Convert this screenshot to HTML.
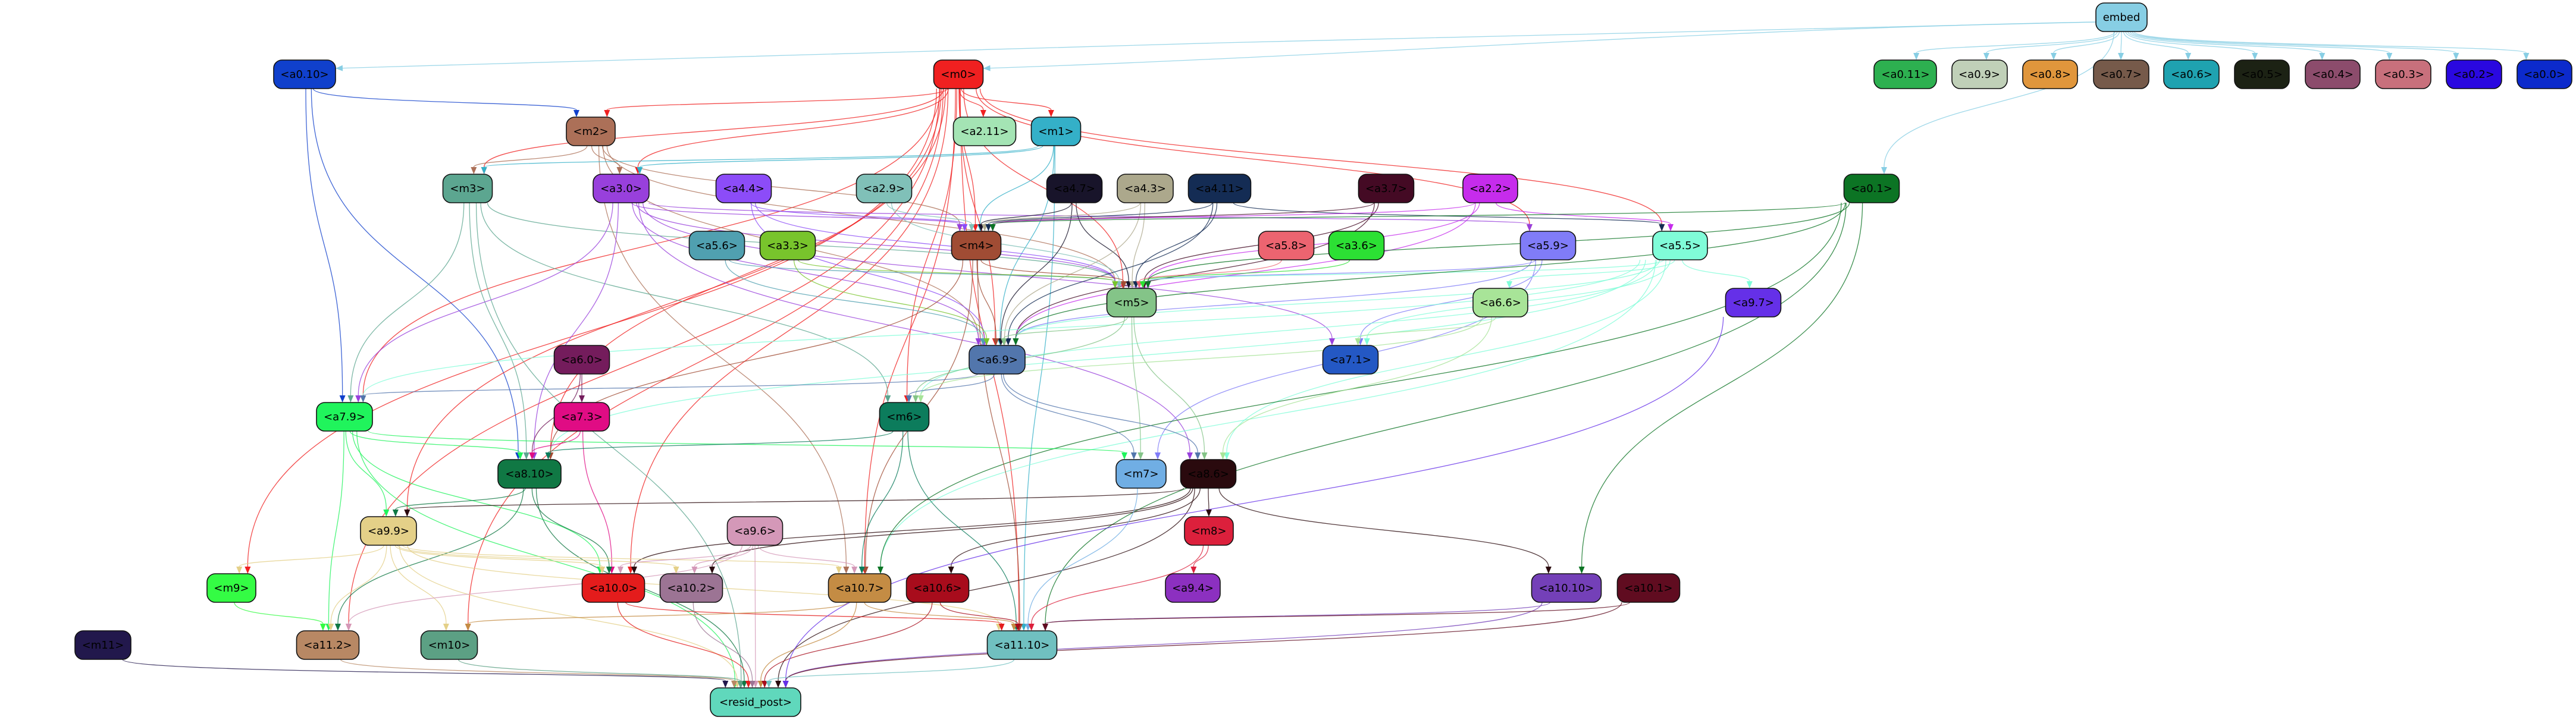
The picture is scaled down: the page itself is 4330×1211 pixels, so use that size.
<!DOCTYPE html>
<html><head><meta charset="utf-8">
<style>
html,body{margin:0;padding:0;background:#fff;}
svg{display:block;}
text{font-family:"DejaVu Sans","Liberation Sans",sans-serif;font-size:18px;fill:#000;}
</style></head>
<body>
<svg id="g" width="4330" height="1211" viewBox="0 0 4330 1211" xmlns="http://www.w3.org/2000/svg">
<g id="edges" fill="none" stroke-width="1.3"></g>
<g id="arrows"></g>
<g id="nodes" stroke="#111" stroke-width="1.6">
<rect x="3523" y="5" width="86" height="48" rx="14" fill="#87CEE4"/><text x="3566" y="35" text-anchor="middle" stroke="none">embed</text>
<rect x="3150" y="101" width="105" height="48" rx="14" fill="#2DB050"/><text x="3203" y="131" text-anchor="middle" stroke="none">&lt;a0.11&gt;</text>
<rect x="3281" y="101" width="93" height="48" rx="14" fill="#C0D0B8"/><text x="3327" y="131" text-anchor="middle" stroke="none">&lt;a0.9&gt;</text>
<rect x="3400" y="101" width="92" height="48" rx="14" fill="#E0963C"/><text x="3446" y="131" text-anchor="middle" stroke="none">&lt;a0.8&gt;</text>
<rect x="3519" y="101" width="93" height="48" rx="14" fill="#765A4A"/><text x="3565" y="131" text-anchor="middle" stroke="none">&lt;a0.7&gt;</text>
<rect x="3637" y="101" width="93" height="48" rx="14" fill="#1FA2B0"/><text x="3684" y="131" text-anchor="middle" stroke="none">&lt;a0.6&gt;</text>
<rect x="3756" y="101" width="92" height="48" rx="14" fill="#1C2214"/><text x="3802" y="131" text-anchor="middle" stroke="none">&lt;a0.5&gt;</text>
<rect x="3875" y="101" width="92" height="48" rx="14" fill="#8C4C6C"/><text x="3921" y="131" text-anchor="middle" stroke="none">&lt;a0.4&gt;</text>
<rect x="3993" y="101" width="93" height="48" rx="14" fill="#C8707C"/><text x="4040" y="131" text-anchor="middle" stroke="none">&lt;a0.3&gt;</text>
<rect x="4112" y="101" width="93" height="48" rx="14" fill="#2A08E0"/><text x="4158" y="131" text-anchor="middle" stroke="none">&lt;a0.2&gt;</text>
<rect x="4231" y="101" width="92" height="48" rx="14" fill="#0C2ACC"/><text x="4277" y="131" text-anchor="middle" stroke="none">&lt;a0.0&gt;</text>
</g>
</svg>
<script>
var N={
"embed":[3566,29,86,"#87CEE4"],
"a0.10":[512,125,104,"#1040CC"],"m0":[1611,125,83,"#F02020"],
"a0.11":[3203,125,105,"#2DB050"],"a0.9":[3327,125,93,"#C0D0B8"],"a0.8":[3446,125,92,"#E0963C"],"a0.7":[3565,125,93,"#765A4A"],"a0.6":[3684,125,93,"#1FA2B0"],"a0.5":[3802,125,92,"#1C2214"],"a0.4":[3921,125,92,"#8C4C6C"],"a0.3":[4040,125,93,"#C8707C"],"a0.2":[4158,125,93,"#2A08E0"],"a0.0":[4277,125,92,"#0C2ACC"],
"m2":[993,221,82,"#AC7058"],"a2.11":[1655,221,105,"#A4E4B4"],"m1":[1775,221,83,"#34B0C8"],
"m3":[786,317,83,"#5CA690"],"a3.0":[1044,317,94,"#9840DC"],"a4.4":[1250,317,93,"#8C4CF8"],"a2.9":[1486,317,93,"#80C0B8"],"a4.7":[1806,317,93,"#18142A"],"a4.3":[1925,317,94,"#ACA88C"],"a4.11":[2050,317,105,"#142C54"],"a3.7":[2330,317,93,"#440A24"],"a2.2":[2505,317,92,"#C62CEC"],"a0.1":[3146,317,93,"#0C7424"],
"a5.6":[1205,413,93,"#50A0B0"],"a3.3":[1324,413,93,"#78C42C"],"m4":[1641,413,83,"#A04C34"],"a5.8":[2162,413,93,"#EC6470"],"a3.6":[2280,413,93,"#2CE034"],"a5.9":[2602,413,93,"#807CF8"],"a5.5":[2824,413,92,"#80FCD8"],
"m5":[1902,509,83,"#84C488"],"a6.6":[2522,509,92,"#A8E498"],"a9.7":[2947,509,93,"#6530E8"],
"a6.0":[978,605,93,"#741C5C"],"a6.9":[1676,605,94,"#5276AC"],"a7.1":[2270,605,93,"#2458C4"],
"a7.9":[579,701,94,"#20F45C"],"a7.3":[978,701,93,"#E00C84"],"m6":[1520,701,83,"#0C7C5C"],
"a8.10":[890,797,106,"#107844"],"m7":[1918,797,84,"#70AEE4"],"a8.6":[2031,797,93,"#2A0A0E"],
"a9.9":[653,893,94,"#E4D088"],"a9.6":[1269,893,93,"#D498B8"],"m8":[2032,893,82,"#DC203C"],
"m9":[389,989,82,"#34FC44"],"a10.0":[1031,989,105,"#E41C1C"],"a10.2":[1162,989,105,"#9C7494"],"a10.7":[1445,989,105,"#C48C44"],"a10.6":[1576,989,105,"#A80C1C"],"a9.4":[2005,989,92,"#8C30C0"],"a10.10":[2633,989,117,"#7440B8"],"a10.1":[2771,989,105,"#600C20"],
"m11":[173,1085,94,"#22184C"],"a11.2":[551,1085,105,"#B88864"],"m10":[755,1085,95,"#5CA084"],"a11.10":[1718,1085,117,"#70C0C0"],
"resid_post":[1270,1181,152,"#60D8BC"]
};
var E={
"embed":["a0.10","m0","a0.11","a0.9","a0.8","a0.7","a0.6","a0.5","a0.4","a0.3","a0.2","a0.0","a0.1"],
"a0.10":["m2","a7.9","a8.10"],
"m0":["m2","m3","a3.0","a2.11","m1","m4","a5.9","a5.5","m5","a6.9","m6","a7.9","a8.10","a9.9","m9","a11.2","m10","a10.0","a10.7","a11.10"],
"m2":["m3","a3.0","m4","m5","a6.9","a10.7"],
"m1":["m3","a3.0","m4","a6.9","a11.10"],
"m3":["a7.9","a8.10","m5","m6","resid_post"],
"a3.0":["m4","a5.9","m5","a6.9","a7.1","a7.9","a8.10","a8.6"],
"a4.4":["m4","m5","a6.9"],"a2.9":["m4","m5"],"a5.6":["m5","a6.9"],"a3.3":["m5","a6.9"],
"a4.7":["m4","m5","a6.9"],"a4.3":["m4","m5","a6.9"],"a4.11":["m4","a5.5","m5","a6.9"],
"a3.7":["m4","m5","a6.9"],"a2.2":["m4","a5.5","m5","a6.9"],"a5.8":["m5"],"a3.6":["m5"],
"a5.9":["m5","a6.9","a7.1","m7"],
"a5.5":["m5","a6.6","a6.9","a7.1","m6","a8.6","a8.10","a7.9","a10.7","a9.7"],
"a0.1":["m4","a6.9","a10.7","a11.10","a10.10","m5"],
"m4":["m5","a6.9","a8.10","a10.7","a11.10"],
"m5":["a6.9","m7","a8.6","m6"],
"a6.6":["a7.1","m6","a8.6"],
"a6.9":["m6","a7.9","m7","a8.6"],
"a6.0":["a7.3","a8.10"],"a7.3":["a8.10","a10.0"],
"a7.9":["a9.9","a8.10","m7","a10.0","a11.2","resid_post"],
"a8.10":["a9.9","a11.2","a10.0","resid_post"],
"a8.6":["m8","a9.9","a10.0","a10.2","a10.6","a10.10","resid_post"],
"m6":["a8.10","a10.7","a11.10"],"m7":["a11.10"],
"a9.9":["m9","a10.0","a10.2","a10.7","a11.2","m10","resid_post","a11.10"],
"a9.6":["a10.0","a10.2","a10.7","a11.2","resid_post"],
"m8":["a9.4","a11.10"],"m9":["a11.2"],
"a10.0":["resid_post","a11.10"],"a10.2":["resid_post"],"a10.7":["resid_post","m10","a11.10"],
"a10.6":["a11.10","resid_post"],"a10.10":["a11.10","resid_post"],"a10.1":["a11.10","resid_post"],
"a9.7":["resid_post"],"m11":["resid_post"],"a11.2":["resid_post"],"m10":["resid_post"],"a11.10":["resid_post"]
};
var NS="http://www.w3.org/2000/svg",eg=document.getElementById("edges"),ag=document.getElementById("arrows"),ng=document.getElementById("nodes");
function mk(t,a,p){var e=document.createElementNS(NS,t);for(var k in a)e.setAttribute(k,a[k]);p.appendChild(e);return e;}
var H=24;
for(var s in E){E[s].forEach(function(t){
 if(s==="embed"&&t!=="a0.1"&&t!=="m0"&&t!=="a0.10"){}
 var A=N[s],B=N[t],col=A[3],x1,y1,x2,y2,c1x,c1y,c2x,c2y;
 if(B[1]>A[1]+10){x1=A[0]+(B[0]-A[0])*0.03;y1=A[1]+H;x2=B[0]+Math.max(-B[2]/3,Math.min(B[2]/3,(A[0]-B[0])*0.05));y2=B[1]-H;var k=(y2-y1)*0.55;c1x=x1;c1y=y1+k;c2x=x2;c2y=y2-k;}
 else if(B[1]<A[1]-10){x1=A[0];y1=A[1]-H;x2=B[0];y2=B[1]+H;var k=(y1-y2)*0.5;c1x=x1;c1y=y1-k;c2x=x2;c2y=y2+k;}
 else{var d=B[0]>A[0]?1:-1;x1=A[0]+d*A[2]/2;y1=A[1];x2=B[0]-d*B[2]/2;y2=B[1];c1x=x1+d*60;c1y=y1;c2x=x2-d*60;c2y=y2;}
 if(s==="embed"&&(t==="m0"||t==="a0.10")){x1=A[0]-A[2]/2;y1=A[1]+8;x2=B[0]+B[2]/2;y2=B[1]-10;c1x=x1-600;c1y=y1+10;c2x=x2+600;c2y=y2-20;}
 var dx=x2-c2x,dy=y2-c2y,L=Math.sqrt(dx*dx+dy*dy)||1;dx/=L;dy/=L;
 var ex=x2-dx*12,ey=y2-dy*12;
 mk("path",{d:"M"+x1+","+y1+" C"+c1x+","+c1y+" "+c2x+","+c2y+" "+ex+","+ey,stroke:col,"stroke-opacity":"0.8"},eg);
 var px=-dy,py=dx;
 mk("polygon",{points:x2+","+y2+" "+(ex+px*5)+","+(ey+py*5)+" "+(ex-px*5)+","+(ey-py*5),fill:col},ag);
});}
var skip={"embed":1,"a0.11":1,"a0.9":1,"a0.8":1,"a0.7":1,"a0.6":1,"a0.5":1,"a0.4":1,"a0.3":1,"a0.2":1,"a0.0":1};
for(var n in N){if(skip[n])continue;var v=N[n];
 mk("rect",{x:v[0]-v[2]/2,y:v[1]-H,width:v[2],height:48,rx:14,fill:v[3]},ng);
 var tx=mk("text",{x:v[0],y:v[1]+6,"text-anchor":"middle",stroke:"none"},ng);
 tx.textContent=n==="embed"?"embed":"<"+n+">";}
</script>
</body></html>
